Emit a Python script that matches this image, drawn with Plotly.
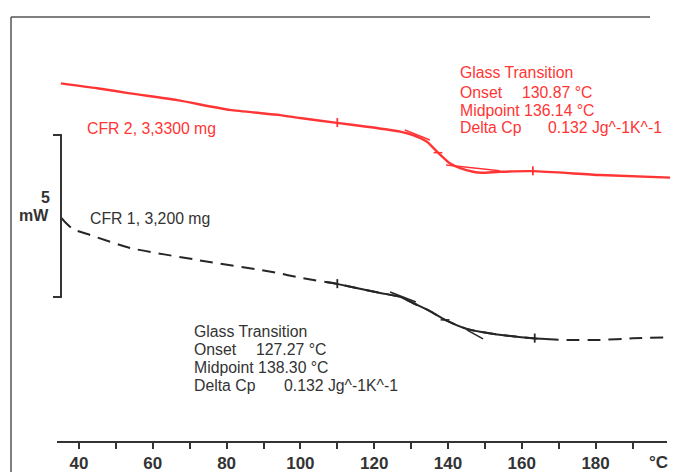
import numpy as np
import plotly.graph_objects as go

# ---------------- data (temperature in °C, heat flow in mW, arbitrary offset) -------------
red_T = [35.1, 44.9, 53.8, 66.6, 80.9, 94.5, 99.9, 109.9, 118.0, 127.0, 130.5,
         134.3, 137.3, 140.5, 143.3, 146.8, 149.2, 154.1, 163.0, 181.2, 200.2]
red_HF = [11.07, 10.92, 10.76, 10.55, 10.25, 10.09, 10.00, 9.85, 9.73, 9.58, 9.475,
          9.27, 8.93, 8.60, 8.45, 8.34, 8.31, 8.34, 8.36, 8.24, 8.16]

black_T = [35.3, 36.2, 38.4, 43.0, 53.8, 72.0, 93.7, 99.9, 109.9, 121.6, 127.0, 130.5,
           135.1, 139.2, 145.1, 148.7, 153.3, 163.0, 172.2, 181.2, 190.1, 199.3]
black_HF = [6.91, 6.79, 6.57, 6.39, 5.99, 5.62, 5.22, 5.07, 4.88, 4.60, 4.48, 4.29,
            4.04, 3.77, 3.49, 3.40, 3.32, 3.20, 3.15, 3.15, 3.20, 3.23]

# evaluation helpers (glass transition analysis)
red_limits_T = [110.0, 163.0]
black_limits_T = [110.0, 163.5]
red_mid_T = 137.3
black_mid_T = 139.2
red_onset_tan_T = [128.3, 135.1]
red_onset_tan_HF = [9.63, 9.32]
red_end_tan_T = [139.5, 154.0]
red_end_tan_HF = [8.55, 8.37]
black_onset_tan_T = [124.3, 131.3]
black_onset_tan_HF = [4.63, 4.32]
black_end_tan_T = [145.1, 149.5]
black_end_tan_HF = [3.46, 3.18]
black_solid_range = [107.0, 166.5]

x_ticks = list(range(40, 200, 10))
x_labels = [str(t) if t % 20 == 0 else "" for t in x_ticks]

red_info = ["Glass Transition", "Onset", "130.87 °C", "Midpoint 136.14 °C", "Delta Cp", "0.132 Jg^-1K^-1"]
black_info = ["Glass Transition", "Onset", "127.27 °C", "Midpoint 138.30 °C", "Delta Cp", "0.132 Jg^-1K^-1"]
red_name = "CFR 2, 3,3300 mg"
black_name = "CFR 1, 3,200 mg"
scale_mw = 5

# ---------------- styling / layout ----------------
W, H = 674, 472
BOT = 442  # pixel row of the x axis
RED = "#ff3535"
BLK = "#262626"
TXT = "#333333"
FONT = "Liberation Sans"
TSIZE = 15.8
PX_PER_C = 3.69
X40 = 79
PX_PER_MW = 32.4

def T_of(px):
    return 40 + (px - X40) / PX_PER_C

def px2paper(px, py):
    return px / W, (BOT - py) / BOT

fig = go.Figure()

# black curve: dashed everywhere, solid in evaluation region
fig.add_trace(go.Scatter(x=black_T, y=black_HF, mode="lines",
                         line=dict(color=BLK, width=2, dash="13px,8px", shape="spline", smoothing=0.6),
                         hoverinfo="skip"))
bt = np.array(black_T)
bh = np.array(black_HF)
sel = (bt > black_solid_range[0]) & (bt < black_solid_range[1])
sx = np.concatenate([[black_solid_range[0]], bt[sel], [black_solid_range[1]]])
sy = np.interp(sx, bt, bh)
fig.add_trace(go.Scatter(x=sx, y=sy, mode="lines",
                         line=dict(color=BLK, width=2, shape="spline", smoothing=0.6),
                         hoverinfo="skip"))

# red curve
fig.add_trace(go.Scatter(x=red_T, y=red_HF, mode="lines",
                         line=dict(color=RED, width=2.4, shape="spline", smoothing=0.6),
                         hoverinfo="skip"))

# tangents
for tx, ty, c in [(red_onset_tan_T, red_onset_tan_HF, RED), (red_end_tan_T, red_end_tan_HF, RED),
                  (black_onset_tan_T, black_onset_tan_HF, BLK), (black_end_tan_T, black_end_tan_HF, BLK)]:
    fig.add_trace(go.Scatter(x=tx, y=ty, mode="lines", line=dict(color=c, width=1.5),
                             hoverinfo="skip"))

# limit ticks and midpoint marks
for lims, cx, cy, c in [(red_limits_T, red_T, red_HF, RED), (black_limits_T, black_T, black_HF, BLK)]:
    for t in lims:
        v = float(np.interp(t, cx, cy))
        fig.add_trace(go.Scatter(x=[t, t], y=[v - 0.13, v + 0.15], mode="lines",
                                 line=dict(color=c, width=1.8), hoverinfo="skip"))
for mt, cx, cy, c in [(red_mid_T, red_T, red_HF, RED), (black_mid_T, black_T, black_HF, BLK)]:
    v = float(np.interp(mt, cx, cy))
    fig.add_trace(go.Scatter(x=[mt - 1.2, mt + 1.2], y=[v, v], mode="lines",
                             line=dict(color=c, width=1.5), hoverinfo="skip"))

# scale bar (5 mW)
sb_T = T_of(61)
sb_y0 = (BOT - 297) / PX_PER_MW
tick_len = 8 / PX_PER_C
fig.add_trace(go.Scatter(x=[sb_T - tick_len, sb_T, sb_T, sb_T - tick_len],
                         y=[sb_y0, sb_y0, sb_y0 + scale_mw, sb_y0 + scale_mw],
                         mode="lines", line=dict(color=TXT, width=2), hoverinfo="skip"))

shapes = [
    # x axis line
    dict(type="line", xref="x", yref="paper", x0=T_of(57), x1=T_of(667), y0=0, y1=0,
         line=dict(color=TXT, width=2)),
    # frame left and top
    dict(type="line", xref="paper", yref="paper", x0=11 / W, x1=11 / W,
         y0=(BOT - 472) / BOT, y1=(BOT - 17) / BOT, line=dict(color="#555", width=1.5)),
    dict(type="line", xref="paper", yref="paper", x0=11 / W, x1=650 / W,
         y0=(BOT - 17) / BOT, y1=(BOT - 17) / BOT, line=dict(color="#555", width=1.5)),
]

annotations = []
def add_text(txt, px, py, color, size=TSIZE, xanchor="left", bold=False):
    x, y = px2paper(px, py)
    annotations.append(dict(text=txt, x=x, y=y, xref="paper", yref="paper",
                            xanchor=xanchor, yanchor="middle", showarrow=False,
                            borderpad=0, borderwidth=0,
                            font=dict(family=FONT, size=size, color=color,
                                      weight="bold" if bold else "normal")))

# red annotation block
add_text(red_info[0], 460, 73, RED)
add_text(red_info[1], 460, 92, RED)
add_text(red_info[2], 522, 92, RED)
add_text(red_info[3], 460, 110, RED)
add_text(red_info[4], 460, 128, RED)
add_text(red_info[5], 548, 128, RED)
add_text(red_name, 87, 129, RED)
# black annotation block
add_text(black_info[0], 194, 331, TXT)
add_text(black_info[1], 194, 349, TXT)
add_text(black_info[2], 256, 349, TXT)
add_text(black_info[3], 194, 367, TXT)
add_text(black_info[4], 194, 385, TXT)
add_text(black_info[5], 284, 385, TXT)
add_text(black_name, 90, 218, TXT)
# scale bar label
add_text(str(scale_mw), 45, 198, TXT, size=16, xanchor="center", bold=True)
add_text("mW", 49, 215, TXT, size=16, xanchor="right", bold=True)
# axis unit
add_text("°C", 658, 462, TXT, size=17, xanchor="center", bold=True)

fig.update_layout(
    width=W, height=H, autosize=False,
    margin=dict(l=0, r=0, t=0, b=H - BOT, pad=0),
    paper_bgcolor="white", plot_bgcolor="white",
    showlegend=False,
    shapes=shapes, annotations=annotations,
    xaxis=dict(range=[T_of(0), T_of(W)], tickvals=x_ticks, ticktext=x_labels,
               showgrid=False, zeroline=False, showline=False,
               ticks="outside", ticklen=6, tickwidth=1.5, tickcolor=TXT,
               tickfont=dict(family=FONT, size=17, color=TXT, weight="bold")),
    yaxis=dict(range=[0, BOT / PX_PER_MW], visible=False, showgrid=False, zeroline=False),
)

fig.write_html("out.html", config={"displayModeBar": False},
               post_script="document.body.style.margin='0';document.body.style.padding='0';")
